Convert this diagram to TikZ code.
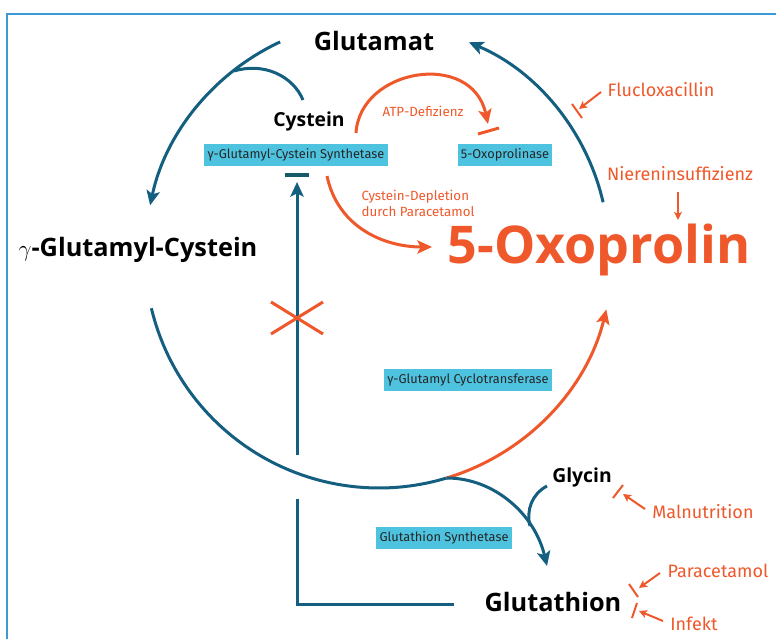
\documentclass[tikz,border=0pt]{standalone}
\usepackage{amsmath,amssymb}
\usepackage{fontspec}
\setmainfont{Fira Sans}
\newfontfamily\fett{Open Sans}
\usetikzlibrary{arrows.meta,calc}
\definecolor{petrol}{RGB}{20,95,128}
\definecolor{rotorange}{RGB}{239,88,42}
\definecolor{enzymblau}{RGB}{78,195,224}
\definecolor{rahmen}{RGB}{60,155,215}
\definecolor{balken}{RGB}{25,90,105}

\begin{document}
\begin{tikzpicture}[x=0.75pt,y=0.75pt,yscale=-1,xscale=1,
    zyklus/.style={draw=petrol,line width=2.25},
    stoer/.style={draw=rotorange,line width=2.25},
    spitze/.style={-{Stealth[length=11pt,width=10pt,inset=2.5pt]}},
    kleinspitze/.style={-{Stealth[length=6pt,width=6pt,inset=1.5pt]}},
    gross/.style={font=\fett\bfseries\fontsize{19}{22}\selectfont},
    mittel/.style={font=\fett\bfseries\fontsize{14.5}{17}\selectfont},
    rotschrift/.style={text=rotorange,font=\fontsize{13.5}{16}\selectfont},
    rotklein/.style={text=rotorange,font=\fontsize{10}{12}\selectfont},
    enzym/.style={fill=enzymblau,text=black!85,font=\fontsize{9.6}{11}\selectfont,inner xsep=2.5pt,inner ysep=0pt,minimum height=16pt}]
    %set diagram size to 776 x 639
    \useasboundingbox (0,0) rectangle (776,639);
    
    %Frame
    \draw [color=rahmen,line width=1.5] (7,639) -- (7,14) -- (776,14) ;
    
    %Centre of the cycle
    \coordinate (mitte) at (379,254);
    \coordinate (abzweig) at ($(mitte)+(73.2:234)$);
    
    % Text Node
    \draw (374,41) node (glutamat) [gross] {Glutamat};
    % Text Node
    \draw (309,121) node (cystein) [mittel] {Cystein};
    % Text Node
    \draw (138,250) node (gglucys) [gross] {$\gamma$-Glutamyl-Cystein};
    % Text Node
    \draw (553,602) node (glutathion) [gross] {Glutathion};
    % Text Node
    \draw (582,477) node (glycin) [mittel] {Glycin};
    % Text Node
    \draw (599,250) node (oxoprolin) [text=rotorange,font=\fett\bfseries\fontsize{39}{44}\selectfont] {5-Oxoprolin};
    
    %Enzymes
    \draw (296,155) node (gcs) [enzym] {γ-Glutamyl-Cystein Synthetase};
    \draw (505,155) node (oxoase) [enzym] {5-Oxoprolinase};
    \draw (468,380) node (gct) [enzym] {γ-Glutamyl Cyclotransferase};
    \draw (444,538) node (gss) [enzym] {Glutathion Synthetase};
    
    %Disturbances
    \draw (423,111) node (atp) [rotklein] {ATP-Defizienz};
    \draw (357,203) node (depletion) [rotklein,anchor=west,align=left] {Cystein-Depletion\\durch Paracetamol};
    \draw (661,90) node (fluclox) [rotschrift] {Flucloxacillin};
    \draw (680,174) node (niere) [rotschrift] {Niereninsuffizienz};
    \draw (703,512) node (malnut) [rotschrift] {Malnutrition};
    \draw (718,571) node (paracet) [rotschrift] {Paracetamol};
    \draw (694,624) node (infekt) [rotschrift] {Infekt};
    
    %Cycle: Glutamat -> gamma-Glutamyl-Cystein
    \draw [zyklus,spitze] (mitte) ++(245:234) arc [start angle=245,end angle=192,radius=234] ;
    %Cystein joins
    \draw [zyklus] (303,100) .. controls (293,76) and (264,62) .. (234,71) ;
    %gamma-Glutamyl-Cystein -> branch
    \draw [zyklus] (mitte) ++(166.6:234) arc [start angle=166.6,end angle=73.2,radius=234] ;
    %branch -> 5-Oxoprolin
    \draw [stoer,spitze] (abzweig) arc [start angle=73.2,end angle=13.7,radius=234] ;
    %5-Oxoprolin -> Glutamat
    \draw [zyklus,spitze] (mitte) ++(347:230) arc [start angle=347,end angle=293,radius=230] ;
    %branch -> Glutathion, Glycin joins
    \draw [zyklus,spitze] (abzweig) .. controls (495,478) and (535,515) .. (547,566) ;
    \draw [zyklus] (547,486) .. controls (532,494) and (526,510) .. (530,526) ;
    
    %Feedback Glutathion -| gamma-Glutamyl-Cystein Synthetase
    \draw [zyklus] (297,499) |- (454,604) ;
    \draw [zyklus,spitze] (297,455) -- (297,182) ;
    \draw [draw=balken,line width=3] (285,175) -- (309,175) ;
    %Cross
    \draw [stoer] (271,302) -- (323,334) (271,334) -- (323,302) ;
    
    %ATP-Defizienz
    \draw [stoer,spitze] (356,133) .. controls (360,68) and (472,50) .. (488,124) ;
    \draw [stoer] (478,134) -- (499,128) ;
    %Cystein-Depletion
    \draw [stoer,spitze] (327,176) .. controls (338,228) and (385,247) .. (432,247) ;
    %Flucloxacillin
    \draw [stoer,line width=1.5,kleinspitze] (601,92) -- (579,109) ;
    \draw [stoer,line width=1.5] (572,104) -- (582,118) ;
    %Niereninsuffizienz
    \draw [stoer,line width=1.5,kleinspitze] (niere.south) ++(-2,6) -- ++(0,28) ;
    %Malnutrition
    \draw [stoer,line width=1.5,kleinspitze] (645,509) -- (623,494) ;
    \draw [stoer,line width=1.5] (613,498) -- (623,485) ;
    %Paracetamol
    \draw [stoer,line width=1.5,kleinspitze] (660,573) -- (639,588) ;
    \draw [stoer,line width=1.5] (629,584) -- (638,597) ;
    %Infekt
    \draw [stoer,line width=1.5,kleinspitze] (663,621) -- (639,611) ;
    \draw [stoer,line width=1.5] (637,603) -- (632,618) ;
\end{tikzpicture}
\end{document}
